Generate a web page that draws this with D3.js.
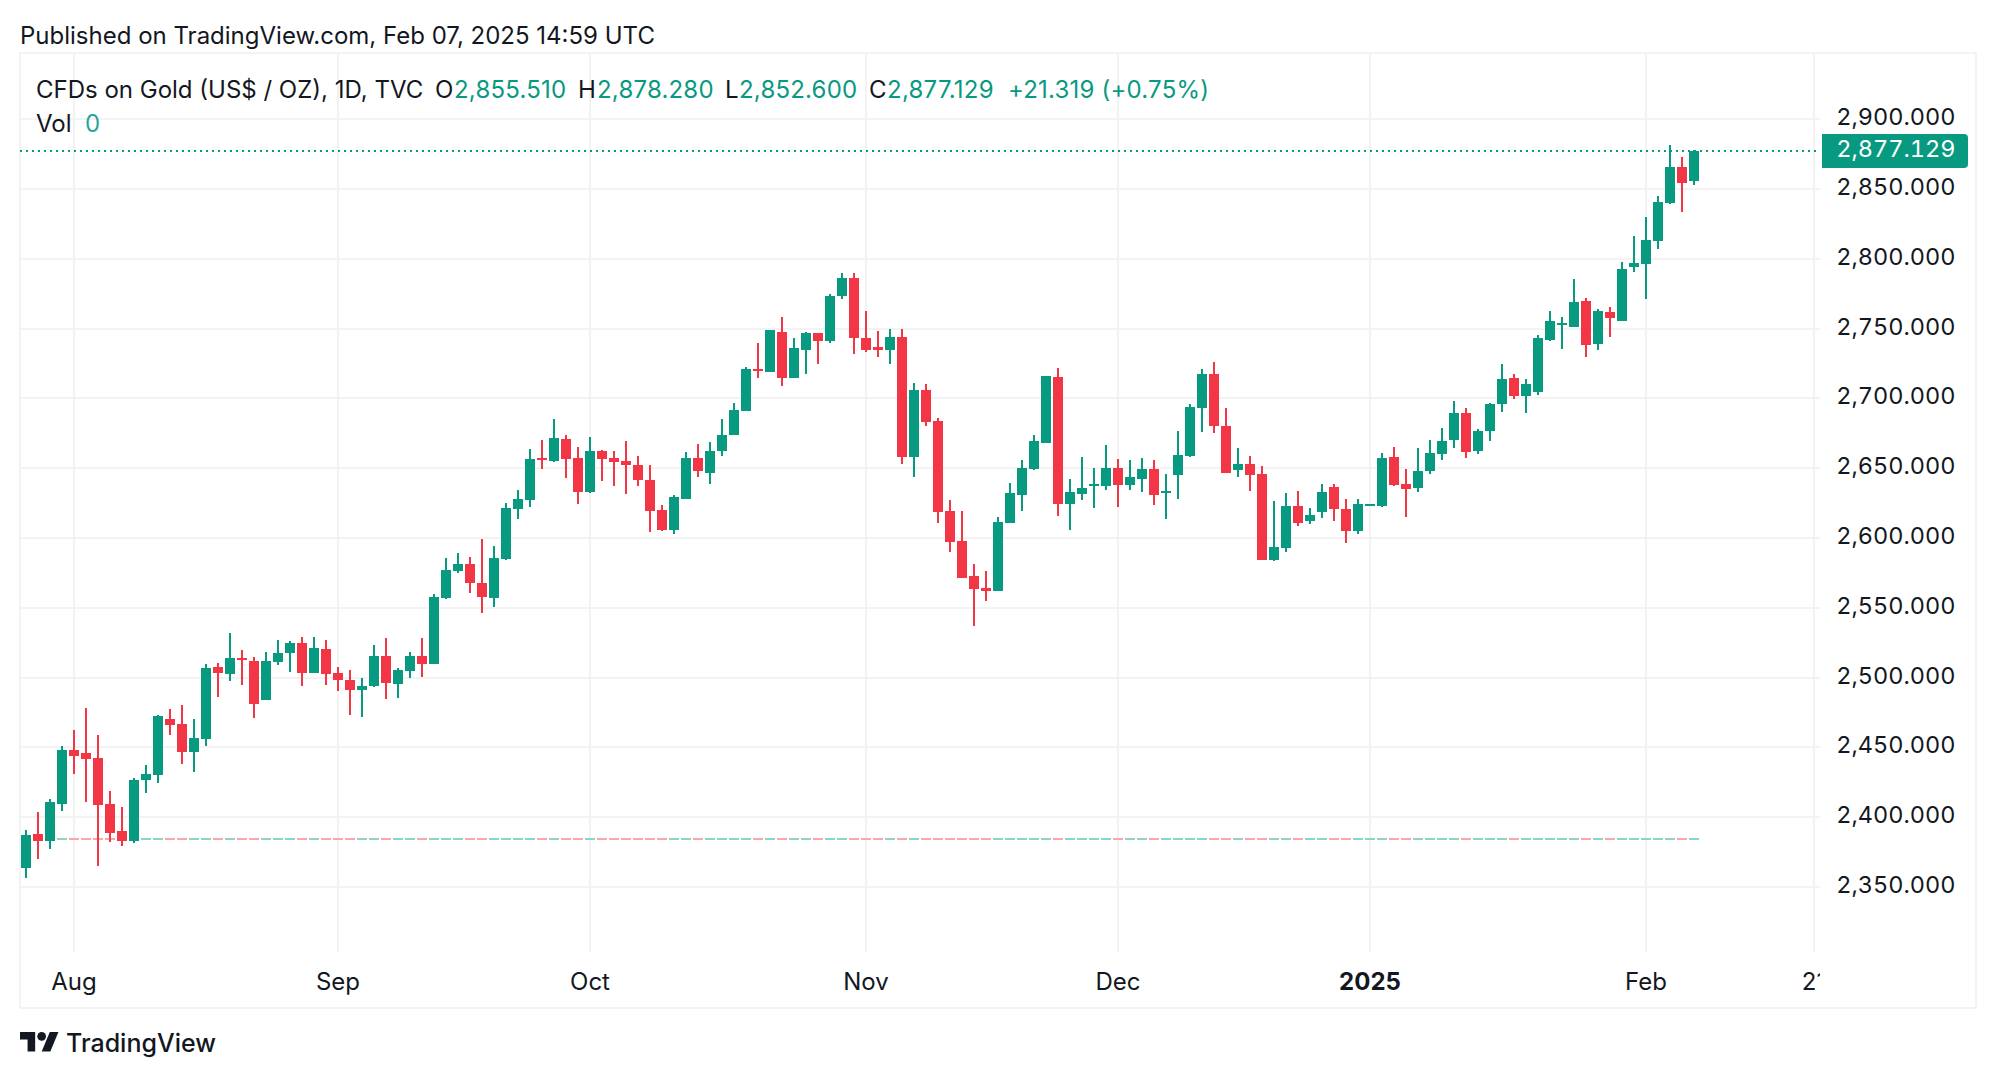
<!DOCTYPE html>
<html>
<head>
<meta charset="utf-8">
<title>CFDs on Gold daily chart</title>
<script src="https://cdn.jsdelivr.net/npm/d3@7/dist/d3.min.js"></script>
<style>
  html, body { margin: 0; padding: 0; background: #fff; }
  svg { display: block; }
  text { font-family: Inter, "Noto Sans", sans-serif; fill: #131722; }
  .price { font-feature-settings: "tnum" 1; }
</style>
</head>
<body>
<svg id="chart" width="1996" height="1078"></svg>
<script>
// Daily candles, oldest first
const opens = [
  2363.6,2388,2383,2409.4,2448,2446,2442.4,2409.4,2390,2383,
  2426.6,2430.2,2470.3,2466.7,2446.7,2456,2507.5,2502.5,2514,2511.8,
  2483.9,2511,2517.5,2524.7,2503.2,2520.4,2503.2,2498.4,2491.3,2494,
  2515.6,2495.6,2505,2515.6,2510,2557,2576.5,2581.5,2568,2557,
  2585,2620.9,2627.3,2657.4,2655.3,2671,2657.4,2633,2662.4,2657.4,
  2655.3,2652.4,2641.6,2620.2,2605.9,2628,2657,2646.3,2662,2673.5,
  2690.7,2720.8,2718.6,2747.3,2714.3,2734.4,2746.5,2740.8,2773.7,2786.6,
  2743,2736.5,2735,2743.7,2657.8,2705.7,2683.5,2619,2597.7,2572.7,
  2564,2562,2610.6,2630.7,2649.3,2667.9,2715.2,2624.2,2631.4,2637,
  2637,2650,2637.8,2642,2649.3,2632,2645,2658.6,2693,2717.3,
  2680,2648.4,2652.7,2645.6,2584,2592.6,2622.7,2611.9,2618.4,2636.3,
  2620.5,2604.8,2622.7,2622.7,2657.8,2638.4,2635.6,2647.7,2660,2670,
  2689.3,2662,2676.4,2695.7,2714.3,2701.4,2704.8,2742,2752.7,2751.3,
  2770,2739,2762,2755.6,2794.3,2796.4,2812.9,2840,2866,2855.51
];
const highs = [
  2390.8,2403.7,2413,2451,2462.4,2478.2,2458.8,2418.7,2407.3,2428,
  2437.4,2473,2477.4,2480.3,2470.3,2509.7,2510.4,2531.9,2519.7,2514.7,
  2518.3,2526.8,2526,2529,2529,2526.8,2507.5,2505.6,2500,2523.5,
  2528.5,2507,2518.5,2528.5,2560,2585.8,2589.4,2586.5,2599.4,2594.4,
  2625.2,2634.5,2663.8,2670.3,2685.3,2673.9,2665.3,2672.4,2663.1,2662.4,
  2669.6,2658.8,2652.4,2623.7,2631,2661.3,2667,2668.5,2685,2696.4,
  2722.2,2740,2748.7,2758,2743,2747.3,2746.5,2774.5,2789.5,2789.5,
  2762.3,2748,2749.4,2749.4,2710.7,2710,2685.7,2627,2619.2,2581.3,
  2576.3,2614.9,2639.3,2655.7,2673.6,2715.9,2721.6,2642,2657.9,2650,
  2666.5,2656.4,2655.7,2657.2,2655.7,2645.7,2676.5,2695.8,2720.9,2725.8,
  2692.8,2664.2,2658.5,2651.3,2626.3,2632,2633.4,2621.2,2639,2638.4,
  2627.7,2627.7,2624,2660.6,2665,2649.2,2664.2,2670,2678.5,2697.9,
  2692.8,2677.8,2697,2724.3,2717.2,2713.6,2745.3,2762.8,2758.5,2785.7,
  2772,2764.2,2765.6,2798,2816.5,2830,2845,2881.7,2873,2878.28
];
const lows = [
  2356.4,2370,2377.2,2404.4,2431,2410.9,2365,2382.2,2379.4,2381.5,
  2417.3,2424.5,2458.8,2438,2432.3,2451,2486,2497.5,2494.6,2471,
  2483.9,2509,2504,2494,2503.2,2494.6,2490.3,2473.4,2472,2493.4,
  2485,2485.6,2500,2500.6,2510,2556.4,2575,2560.8,2546.4,2550.7,
  2584.4,2613.7,2622.3,2649.5,2654.6,2643,2624.5,2632.3,2641,2637.4,
  2631.6,2637.4,2604.4,2605.2,2603,2628,2643.4,2638.4,2658.5,2673.5,
  2690.7,2714.3,2718.6,2708.6,2714.3,2717.2,2724.3,2740,2770.9,2731.5,
  2733,2730,2724.3,2652.7,2643.4,2680,2610.5,2589.7,2571.2,2536.9,
  2554.8,2562,2610.6,2619.2,2648.6,2667.9,2615.6,2605.6,2627,2621.4,
  2634.2,2622,2634.2,2632.8,2623.5,2613.5,2627.8,2657.9,2675.8,2675,
  2646.3,2643.4,2633.4,2584,2583.3,2589.7,2608.4,2609.8,2614,2612,
  2596.2,2602.6,2622.7,2622,2637,2614.8,2632.7,2645.6,2655.6,2664.2,
  2657,2660,2669.2,2690,2699.3,2689.3,2702.6,2741.3,2735.6,2751.3,
  2729.8,2734.8,2744,2755.6,2790.7,2771.4,2807,2839.6,2833.8,2852.6
];
const closes = [
  2387.2,2383,2410.9,2448,2443.8,2441.6,2408.7,2388.7,2383,2426.6,
  2431,2472.4,2466,2446.7,2456.7,2506.8,2503.2,2514,2512.5,2481,
  2511.8,2517.5,2524.7,2503.2,2521,2502.5,2498.2,2491.3,2494,2515.6,
  2496.3,2505.6,2515.6,2510,2558,2577.2,2581.5,2568,2558,2585.8,
  2621.6,2628,2656.7,2656,2671.7,2656.7,2633,2662.4,2656.7,2654.6,
  2652.4,2641.6,2619.5,2605.9,2629.5,2657,2647.7,2662,2673.5,2691.4,
  2720.8,2719.3,2748.7,2714.3,2735.8,2746.5,2740.8,2773.7,2786.6,2743,
  2735,2735,2743.7,2657.8,2705.7,2682.8,2618.4,2597,2571.2,2563.4,
  2562,2611.3,2632,2650,2669.3,2715.9,2624.2,2632.8,2635.7,2638.5,
  2650,2637.8,2643.6,2649.3,2630.7,2633.5,2659.3,2693.7,2717.3,2680,
  2646.3,2652.7,2644.9,2584,2593.3,2622.7,2610.5,2616.2,2632.7,2620.5,
  2604.8,2624.1,2624,2657,2637.7,2634.8,2647.7,2660.6,2669.2,2689.3,
  2661.3,2676.4,2695.7,2713.6,2701.4,2710,2743.4,2755.6,2754.2,2769.2,
  2738.4,2762.8,2757.8,2792.8,2797,2813.6,2840.8,2866,2854.6,2877.129
];

// Axis ticks: bar index of each date label, and the price levels
const dateLabels = ["Aug", "Sep", "Oct", "Nov", "Dec", "2025", "Feb", "21"];
const dateBars = [4, 26, 47, 70, 91, 112, 135, 149];
const priceTicks = [2350, 2400, 2450, 2500, 2550, 2600, 2650, 2700, 2750, 2800, 2850, 2900];

// Reference level drawn across all bars, and the last traded price
const referenceLevel = 2384.4;
const lastPrice = 2877.129;

const UP = "#089981", DOWN = "#F23645", GRID = "#f3f3f3", INK = "#131722";
const up = i => closes[i] >= opens[i];
const bars = d3.range(opens.length);

const frame = { left: 20, right: 1976, top: 53, bottom: 1008 };
const plot = { right: 1820, bottom: 952 };
const TEXT_SIZE = 24;
const PRICE_SIZE = 23.5;

const x = d3.scaleLinear().domain([0, 139]).range([26, 1694]);
const y = d3.scaleLinear().domain([2350, 2850]).range([887, 189]);
const fmt = d3.format(",.3f");

const svg = d3.select("#chart");
svg.append("defs").append("clipPath").attr("id", "time-clip")
  .append("rect").attr("x", frame.left).attr("y", plot.bottom)
  .attr("width", plot.right - frame.left).attr("height", frame.bottom - plot.bottom);

// Grid
const grid = svg.append("g").attr("stroke", GRID).attr("stroke-width", 2).attr("shape-rendering", "crispEdges");
grid.selectAll(".h").data(priceTicks).join("line").attr("class", "h")
  .attr("x1", frame.left).attr("x2", plot.right)
  .attr("y1", d => Math.round(y(d))).attr("y2", d => Math.round(y(d)));
grid.selectAll(".v").data(dateBars).join("line").attr("class", "v")
  .attr("x1", d => x(d)).attr("x2", d => x(d))
  .attr("y1", frame.top).attr("y2", plot.bottom);

// Outer frame
svg.append("rect")
  .attr("x", frame.left).attr("y", frame.top)
  .attr("width", frame.right - frame.left).attr("height", frame.bottom - frame.top)
  .attr("fill", "none").attr("stroke", GRID).attr("stroke-width", 2)
  .attr("shape-rendering", "crispEdges");

// Reference level, one short segment per bar tinted by its direction
svg.append("g").attr("shape-rendering", "crispEdges").selectAll("rect").data(bars).join("rect")
  .attr("x", i => x(i) - 5).attr("width", 10)
  .attr("y", Math.round(y(referenceLevel)) - 1).attr("height", 2)
  .attr("fill", i => up(i) ? "#8fd2c7" : "#f8a8aa");

// Candles
const candles = svg.append("g").attr("shape-rendering", "crispEdges");
candles.selectAll(".wick").data(bars).join("rect").attr("class", "wick")
  .attr("x", i => x(i) - 1).attr("width", 2)
  .attr("y", i => y(highs[i]))
  .attr("height", i => y(lows[i]) - y(highs[i]))
  .attr("fill", i => up(i) ? UP : DOWN);
candles.selectAll(".body").data(bars).join("rect").attr("class", "body")
  .attr("x", i => x(i) - 5).attr("width", 10)
  .attr("y", i => y(Math.max(opens[i], closes[i])))
  .attr("height", i => Math.max(2, y(Math.min(opens[i], closes[i])) - y(Math.max(opens[i], closes[i]))))
  .attr("fill", i => up(i) ? UP : DOWN);

// Last price line
svg.append("line")
  .attr("x1", frame.left).attr("x2", plot.right)
  .attr("y1", Math.round(y(lastPrice))).attr("y2", Math.round(y(lastPrice)))
  .attr("stroke", UP).attr("stroke-width", 2).attr("stroke-dasharray", "2 4");

// Price axis
const priceAxis = svg.append("g").attr("font-size", PRICE_SIZE).attr("class", "price");
priceAxis.selectAll("text").data(priceTicks).join("text")
  .attr("x", 1955.5).attr("text-anchor", "end")
  .attr("y", d => y(d) + 6)
  .text(d => fmt(d));

// Last price tag
const tagY = Math.round(y(lastPrice));
const tagPath = d3.path();
tagPath.moveTo(1822, tagY - 17);
tagPath.lineTo(1964, tagY - 17);
tagPath.quadraticCurveTo(1968, tagY - 17, 1968, tagY - 13);
tagPath.lineTo(1968, tagY + 13);
tagPath.quadraticCurveTo(1968, tagY + 17, 1964, tagY + 17);
tagPath.lineTo(1822, tagY + 17);
tagPath.closePath();
svg.append("path").attr("d", tagPath.toString()).attr("fill", UP);
svg.append("text").attr("class", "price").attr("x", 1955.5).attr("y", tagY + 6).attr("text-anchor", "end")
  .attr("font-size", PRICE_SIZE).style("fill", "#fff")
  .text(fmt(lastPrice));

// Time axis, clipped at the edge of the plot
svg.append("g").attr("clip-path", "url(#time-clip)").selectAll("text").data(dateLabels).join("text")
  .attr("x", (d, i) => x(dateBars[i])).attr("y", 990)
  .attr("text-anchor", "middle").attr("font-size", TEXT_SIZE)
  .attr("font-weight", d => d === "2025" ? 700 : 400)
  .text(d => d);

// Heading and legend
svg.append("text").attr("x", 20).attr("y", 44).attr("font-size", TEXT_SIZE).text("Published on TradingView.com, Feb 07, 2025 14:59 UTC");

const legend = [
  ["CFDs on Gold (US$ / OZ), 1D, TVC", 36, INK, 0],
  ["O", 435, INK, 0], ["2,855.510", 454, UP, 0.2],
  ["H", 578, INK, 0], ["2,878.280", 597, UP, 0.2],
  ["L", 725, INK, 0], ["2,852.600", 739, UP, 0.2],
  ["C", 869, INK, 0], ["2,877.129", 887, UP, 0.25],
  ["+21.319 (+0.75%)", 1008, UP, 0.2]
];
svg.append("g").attr("font-size", TEXT_SIZE).selectAll("text").data(legend).join("text")
  .attr("x", d => d[1]).attr("y", 98).attr("letter-spacing", d => d[3])
  .text(d => d[0]).style("fill", d => d[2]);
svg.append("text").attr("x", 36).attr("y", 132).attr("font-size", TEXT_SIZE).text("Vol");
svg.append("text").attr("x", 85).attr("y", 132).attr("font-size", TEXT_SIZE).style("fill", "#26a69a").text("0");

// Footer brand mark and wordmark
const brand = svg.append("g").attr("transform", "translate(20,1027.7) scale(1.083)").attr("fill", INK);
const mark = [[0, 4], [14, 4], [14, 22], [7, 22], [7, 11], [0, 11]];
brand.append("path").attr("d", d3.line()(mark) + "Z");
brand.append("path").attr("d", d3.line()([[27.5, 4], [35.5, 4], [28, 22], [20, 22]]) + "Z");
brand.append("circle").attr("cx", 20).attr("cy", 8).attr("r", 4);
svg.append("text").attr("x", 66).attr("y", 1052).attr("font-size", 25).attr("font-weight", 500).text("TradingView");
</script>
</body>
</html>
